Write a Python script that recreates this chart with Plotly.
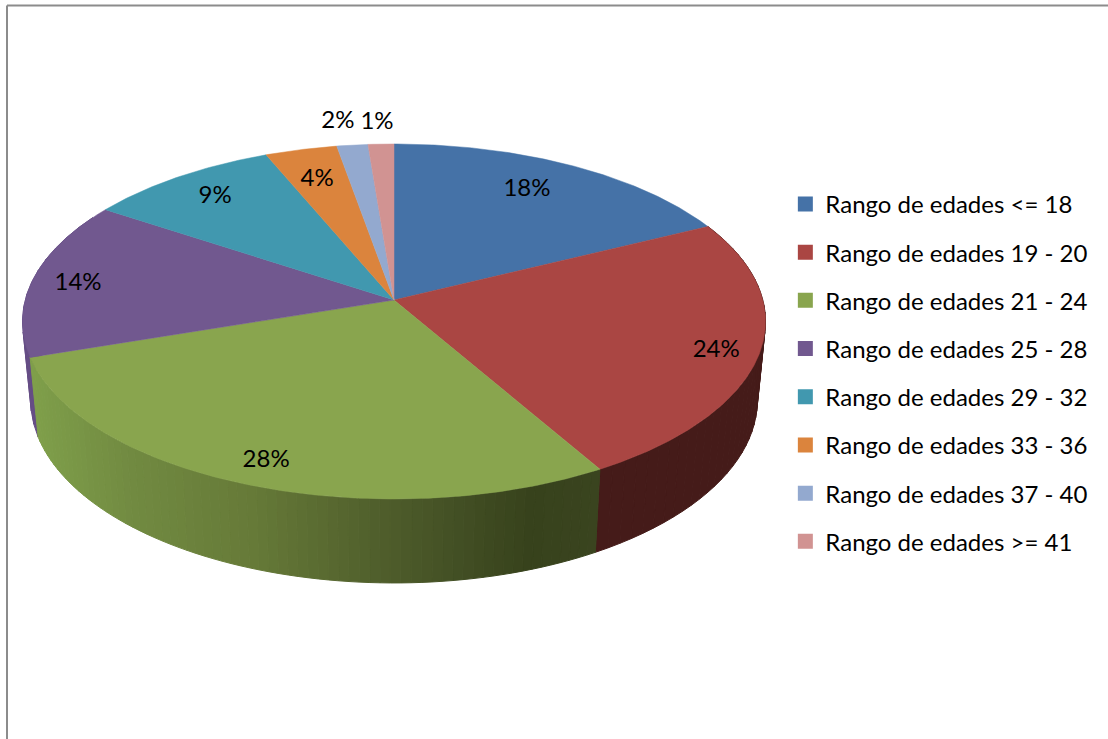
import math
import plotly.graph_objects as go

# --- data ---
CATEGORIES = ["Rango de edades <= 18", "Rango de edades 19 - 20", "Rango de edades 21 - 24",
              "Rango de edades 25 - 28", "Rango de edades 29 - 32", "Rango de edades 33 - 36",
              "Rango de edades 37 - 40", "Rango de edades >= 41"]
VALUES = [17.7, 23.97, 28.22, 14.4, 9.41, 3.52, 1.52, 1.26]
COLORS = ["#4572A7", "#AA4643", "#89A54E", "#71588F", "#4198AF", "#DB843D", "#93A9CF", "#D19392"]

# --- label placement: radial fraction, angular nudge (deg), baseline compensation (px) ---
LABEL_R = [0.80, 0.886, 0.872, 0.875, 0.837, 0.80, 1.196, 1.176]
LABEL_DT = [-2.6, 0.5, 0.2, -0.3, 0.9, -0.2, -1.1, -0.3]
LABEL_DY = 3.0

# --- tilted-disc projection (pixel coordinates of the page) ---
CX, CY = 394.0, 300.0
A, B, K = 368.8, 174.9, 0.121
SX, SY, DROP = 0.978, 1.03, 78.0
GREEN_STOPS = [(30, "#7f9f4a"), (130, "#718a41"), (250, "#667a38"), (400, "#4c5a2a"),
               (530, "#37421c"), (600, "#3a441f")]
WALL_COLORS = {1: "#451b19", 3: "#654d85"}


def top(theta_deg, r=1.0):
    t = math.radians(theta_deg)
    u, v = r * math.sin(t), r * math.cos(t)
    w = 1 + K * v
    return CX + A * u / w, CY - B * v / w


def bottom(theta_deg):
    x, y = top(theta_deg)
    return CX + SX * (x - CX), CY + SY * (y - CY) + DROP


def green_at(x):
    def rgb(h):
        return [int(h[i:i + 2], 16) for i in (1, 3, 5)]
    if x <= GREEN_STOPS[0][0]:
        return GREEN_STOPS[0][1]
    for (x0, c0), (x1, c1) in zip(GREEN_STOPS, GREEN_STOPS[1:]):
        if x <= x1:
            f = (x - x0) / (x1 - x0)
            a, b = rgb(c0), rgb(c1)
            return "rgb(%d,%d,%d)" % tuple(round(p + (q - p) * f) for p, q in zip(a, b))
    return GREEN_STOPS[-1][1]


edges = [0.0]
for v in VALUES:
    edges.append(edges[-1] + v)
total = edges[-1]
angles = [e / total * 360 for e in edges]

fig = go.Figure()


def wall(a0, a1, count, color_fn):
    for s in range(count):
        p = a0 + (a1 - a0) * s / count
        q = a0 + (a1 - a0) * (s + 1) / count
        corners = [top(p), top(q), bottom(q), bottom(p), top(p)]
        c = color_fn(top((p + q) / 2)[0])
        fig.add_trace(go.Scatter(x=[h[0] for h in corners], y=[h[1] for h in corners], mode="lines",
                                 fill="toself", fillcolor=c, line=dict(color=c, width=1),
                                 showlegend=False, hoverinfo="skip"))


# walls: only the three slices that reach the front of the disc
wall(angles[3], min(angles[4], 300), 12, lambda x: WALL_COLORS[3])
wall(angles[1], angles[2], 40, lambda x: WALL_COLORS[1])
wall(angles[2], angles[3], 70, green_at)

# top faces
for i, (name, color) in enumerate(zip(CATEGORIES, COLORS)):
    n = max(6, int(angles[i + 1] - angles[i]) * 2)
    rim = [top(angles[i] + (angles[i + 1] - angles[i]) * s / n) for s in range(n + 1)]
    xs = [CX] + [p[0] for p in rim] + [CX]
    ys = [CY] + [p[1] for p in rim] + [CY]
    fig.add_trace(go.Scatter(x=xs, y=ys, mode="lines", fill="toself", fillcolor=color,
                             line=dict(color=color, width=0.5), name=name, legendgroup=name,
                             showlegend=False, hoverinfo="name"))
    fig.add_trace(go.Scatter(x=[None], y=[None], mode="markers", name=name, legendgroup=name,
                             marker=dict(symbol="square", size=15, color=color), showlegend=True))

# data labels
lx, ly, lt = [], [], []
for i, v in enumerate(VALUES):
    mid = (angles[i] + angles[i + 1]) / 2 + LABEL_DT[i]
    x, y = top(mid, LABEL_R[i])
    lx.append(x)
    ly.append(y + LABEL_DY)
    lt.append(f"{round(v / total * 100)}%")
fig.add_trace(go.Scatter(x=lx, y=ly, mode="text", text=lt, textposition="middle center",
                         textfont=dict(family="Lato", size=24, color="#000000"),
                         showlegend=False, hoverinfo="skip"))

# chart frame, running off the right and bottom of the picture
fig.add_shape(type="line", x0=7, x1=7, y0=5.5, y1=739, line=dict(color="#8c8c8c", width=2), layer="below")
fig.add_shape(type="line", x0=7, x1=1108, y0=5.5, y1=5.5, line=dict(color="#8c8c8c", width=2), layer="below")

fig.update_layout(
    width=1108, height=739, autosize=False,
    margin=dict(l=0, r=0, t=0, b=0),
    paper_bgcolor="white", plot_bgcolor="white",
    xaxis=dict(range=[0, 1108], visible=False, fixedrange=True),
    yaxis=dict(range=[739, 0], visible=False, fixedrange=True),
    legend=dict(x=0.7088, xanchor="left", y=0.4955, yanchor="middle", yref="paper",
                traceorder="grouped", tracegroupgap=14, itemclick=False, itemdoubleclick=False,
                font=dict(family="Lato", size=24, color="#000000"), bgcolor="rgba(0,0,0,0)"),
    showlegend=True,
)

fig.write_html("out.html", post_script="document.body.style.margin='0';document.body.style.overflow='hidden';",
               config={"displayModeBar": False})
